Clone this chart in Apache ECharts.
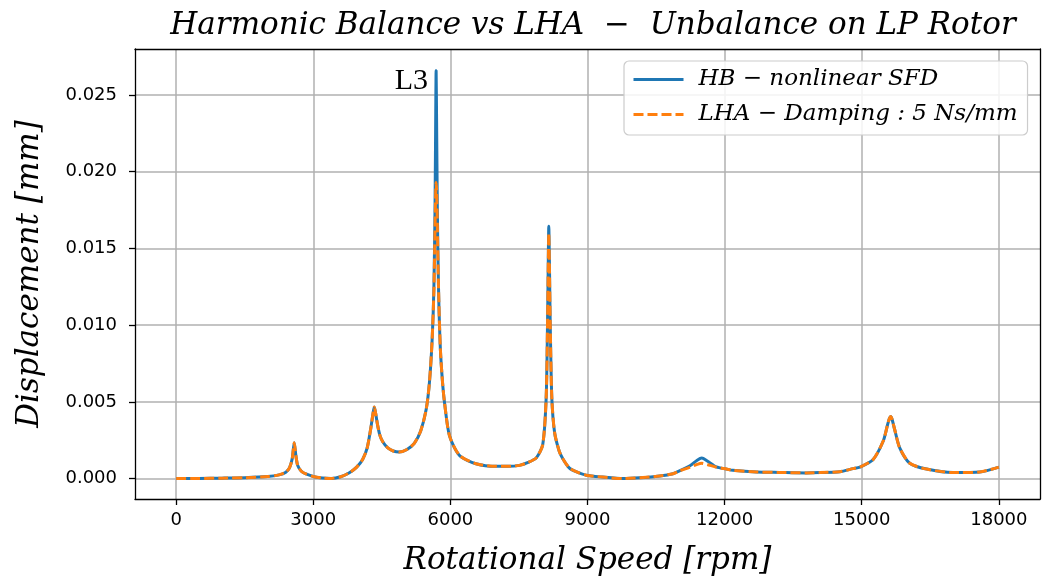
<!DOCTYPE html>
<html>
<head>
<meta charset="utf-8">
<script src="https://cdn.jsdelivr.net/npm/echarts@6/dist/echarts.min.js"></script>
<style>
  html, body { margin: 0; padding: 0; background: #ffffff; }
  #chart { width: 1043px; height: 581px; }
</style>
</head>
<body>
<div id="chart"></div>
<script>
// Rotor speed samples [rpm]
const rpm = [
  0, 500, 1000, 1500, 2000, 2250, 2400, 2480, 2540, 2584, 2620, 2660, 2740, 2840,
  3020, 3200, 3390, 3600, 3790, 3950, 4080, 4180, 4260, 4305, 4335, 4365, 4410, 4460, 4520,
  4630, 4750, 4880, 5050, 5210, 5350, 5470, 5540, 5600, 5640, 5665, 5680, 5688,
  5698, 5715, 5740, 5780, 5830, 5870, 5980, 6200, 6560, 7000, 7250, 7510, 7700,
  7880, 8020, 8095, 8125, 8145, 8153, 8165, 8185, 8220, 8280, 8380, 8460, 8600,
  8750, 8970, 9330, 9780, 10140, 10580, 10870, 11010, 11250, 11400, 11500, 11620,
  11820, 12040, 12180, 12700, 13200, 13790, 14080, 14520, 14810, 14960, 15250,
  15470, 15560, 15605, 15634, 15665, 15720, 15831, 16050, 16420, 17000, 17580, 18000
];

// Harmonic balance response with the nonlinear squeeze film damper [mm]
const hbDisp = [
  0.00000, 0.00001, 0.00003, 0.00006, 0.00013, 0.00024, 0.00042, 0.00070, 0.00130, 0.00233, 0.00150, 0.00085, 0.00048, 0.00030,
  0.00012, 0.00004, 0.00001, 0.00012, 0.00038, 0.00075, 0.00125, 0.00200, 0.00330, 0.00420, 0.00466, 0.00425, 0.00345, 0.00280, 0.00240,
  0.00200, 0.00180, 0.00173, 0.00190, 0.00230, 0.00310, 0.00450, 0.00620, 0.00900, 0.01250, 0.01800, 0.02400, 0.02660,
  0.02350, 0.01750, 0.01250, 0.00850, 0.00620, 0.00500, 0.00280, 0.00151, 0.00097, 0.00080, 0.00080, 0.00086, 0.00105,
  0.00135, 0.00220, 0.00520, 0.01000, 0.01500, 0.01645, 0.01450, 0.01000, 0.00520, 0.00300, 0.00180, 0.00130, 0.00070,
  0.00045, 0.00022, 0.00010, 0.00000, 0.00005, 0.00017, 0.00032, 0.00050, 0.00085, 0.00120, 0.00134, 0.00115,
  0.00076, 0.00062, 0.00054, 0.00043, 0.00040, 0.00037, 0.00039, 0.00045, 0.00065, 0.00075, 0.00125,
  0.00245, 0.00345, 0.00392, 0.00405, 0.00385, 0.00320, 0.00200, 0.00100, 0.00062, 0.00039, 0.00043, 0.00075
];

// Linear harmonic analysis with a constant damping of 5 Ns/mm [mm]
const lhaDisp = [
  0.00000, 0.00001, 0.00003, 0.00006, 0.00013, 0.00024, 0.00042, 0.00070, 0.00130, 0.00233, 0.00150, 0.00085, 0.00048, 0.00030,
  0.00012, 0.00004, 0.00001, 0.00012, 0.00038, 0.00075, 0.00125, 0.00200, 0.00330, 0.00420, 0.00466, 0.00425, 0.00345, 0.00280, 0.00240,
  0.00200, 0.00180, 0.00173, 0.00190, 0.00230, 0.00310, 0.00450, 0.00620, 0.00900, 0.01230, 0.01650, 0.01880, 0.01930,
  0.01880, 0.01650, 0.01250, 0.00850, 0.00620, 0.00500, 0.00280, 0.00151, 0.00097, 0.00080, 0.00080, 0.00086, 0.00105,
  0.00135, 0.00220, 0.00520, 0.01000, 0.01480, 0.01600, 0.01420, 0.01000, 0.00520, 0.00300, 0.00180, 0.00130, 0.00070,
  0.00045, 0.00022, 0.00010, 0.00000, 0.00005, 0.00017, 0.00032, 0.00050, 0.00075, 0.00093, 0.00100, 0.00092,
  0.00074, 0.00062, 0.00054, 0.00043, 0.00040, 0.00037, 0.00039, 0.00045, 0.00065, 0.00075, 0.00125,
  0.00245, 0.00345, 0.00392, 0.00405, 0.00385, 0.00320, 0.00200, 0.00100, 0.00062, 0.00039, 0.00043, 0.00075
];

// Tick positions
const xTicks = [0, 3000, 6000, 9000, 12000, 15000, 18000];
const yTicks = [0.000, 0.005, 0.010, 0.015, 0.020, 0.025];

const seriesNames = ['HB \u2212 nonlinear SFD', 'LHA \u2212 Damping : 5 Ns/mm'];
const peakLabel = 'L3';

const xRange = [-900, 18900];
const yRange = [-0.00133, 0.0280];

const mathFont = '"DejaVu Serif", serif';
const tickFont = '"DejaVu Sans", sans-serif';

// Highest point of the HB curve carries the mode label
let peakIdx = 0;
hbDisp.forEach((v, i) => { if (v > hbDisp[peakIdx]) peakIdx = i; });

const chart = echarts.init(document.getElementById('chart'), null, { renderer: 'canvas' });

const gridLine = { show: true, lineStyle: { color: '#b0b0b0', width: 1.5 } };
const spine = { show: true, onZero: false, lineStyle: { color: '#000000', width: 1.3 } };
const tickStyle = { color: '#000', width: 1.3 };

chart.setOption({
  animation: false,
  backgroundColor: '#ffffff',
  title: {
    text: 'Harmonic Balance vs LHA  \u2212  Unbalance on LP Rotor',
    left: 588,
    textAlign: 'center',
    top: 5,
    textStyle: { fontFamily: mathFont, fontStyle: 'italic', fontWeight: 'normal', fontSize: 31, color: '#000' }
  },
  grid: { left: 135, right: 3, top: 49, bottom: 81, containLabel: false },
  legend: {
    orient: 'vertical',
    left: 624,
    top: 61,
    padding: [6, 10, 8, 8],
    itemGap: 10,
    itemWidth: 50,
    itemHeight: 14,
    borderColor: '#cccccc',
    borderWidth: 1.2,
    borderRadius: 5,
    backgroundColor: 'rgba(255,255,255,0.85)',
    itemStyle: { opacity: 0 },
    lineStyle: { width: 3 },
    textStyle: { fontFamily: mathFont, fontStyle: 'italic', fontSize: 23, lineHeight: 25, color: '#000', padding: [0, 0, 0, 10] },
    data: seriesNames
  },
  xAxis: [{
    type: 'value',
    min: xRange[0], max: xRange[1],
    position: 'bottom',
    name: 'Rotational Speed [rpm]',
    nameLocation: 'middle',
    nameGap: 46,
    nameTextStyle: { fontFamily: mathFont, fontStyle: 'italic', fontSize: 31, color: '#000' },
    axisLine: spine,
    axisTick: { show: true, length: 6, lineStyle: tickStyle, customValues: xTicks },
    axisLabel: { show: true, margin: 12, fontFamily: tickFont, fontSize: 18, color: '#000', customValues: xTicks,
                 formatter: v => String(v) },
    splitLine: gridLine
  }, {
    type: 'value',
    min: xRange[0], max: xRange[1],
    position: 'top',
    axisLine: spine,
    axisTick: { show: false },
    axisLabel: { show: false },
    splitLine: { show: false }
  }],
  yAxis: [{
    type: 'value',
    min: yRange[0], max: yRange[1],
    position: 'left',
    name: 'Displacement [mm]',
    nameLocation: 'middle',
    nameRotate: 90,
    nameGap: 90,
    nameTextStyle: { fontFamily: mathFont, fontStyle: 'italic', fontSize: 31, color: '#000' },
    axisLine: spine,
    axisTick: { show: true, length: 6, lineStyle: tickStyle, customValues: yTicks },
    axisLabel: { show: true, margin: 18, fontFamily: tickFont, fontSize: 18, color: '#000', customValues: yTicks,
                 formatter: v => v.toFixed(3) },
    splitLine: gridLine
  }, {
    type: 'value',
    min: yRange[0], max: yRange[1],
    position: 'right',
    axisLine: spine,
    axisTick: { show: false },
    axisLabel: { show: false },
    splitLine: { show: false }
  }],
  series: [{
    name: seriesNames[0],
    type: 'line',
    data: rpm.map((r, i) => [r, hbDisp[i]]),
    symbol: 'none',
    smooth: 0.25,
    lineStyle: { color: '#1f77b4', width: 3 },
    itemStyle: { color: '#1f77b4' },
    markPoint: {
      symbol: 'circle',
      symbolSize: 0,
      data: [{ coord: [rpm[peakIdx], hbDisp[peakIdx]], value: peakLabel }],
      label: {
        show: true,
        formatter: peakLabel,
        position: 'left',
        distance: 0,
        offset: [-8, 11],
        fontFamily: '"Liberation Serif", serif',
        fontSize: 30,
        color: '#000'
      }
    }
  }, {
    name: seriesNames[1],
    type: 'line',
    data: rpm.map((r, i) => [r, lhaDisp[i]]),
    symbol: 'none',
    smooth: 0.25,
    lineStyle: { color: '#ff7f0e', width: 3, type: [10, 4] },
    itemStyle: { color: '#ff7f0e' }
  }]
});
</script>
</body>
</html>
